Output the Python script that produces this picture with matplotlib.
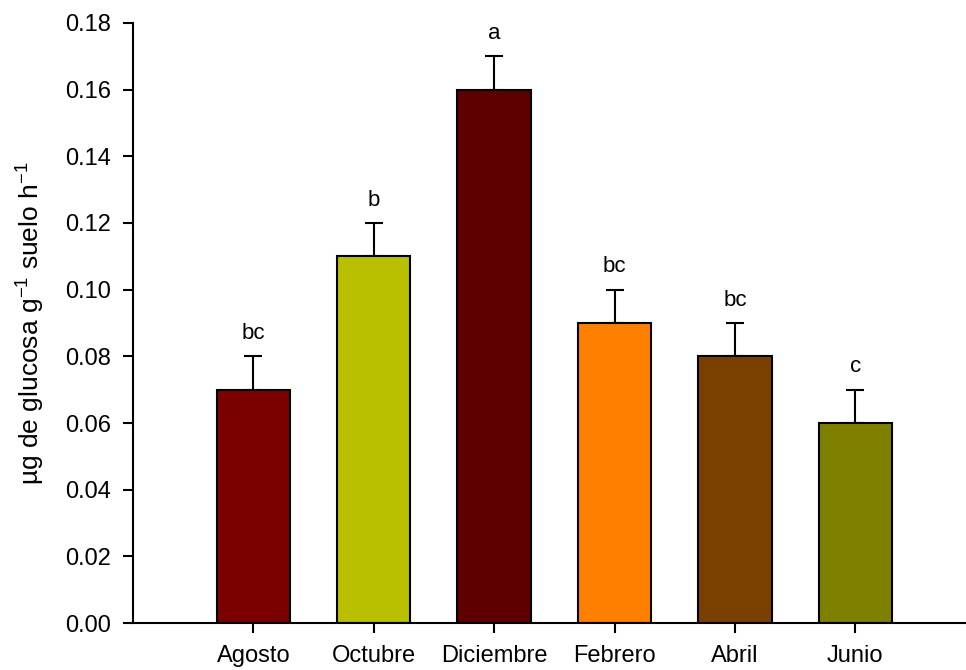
import matplotlib
matplotlib.use("Agg")
import matplotlib.pyplot as plt

meses = ["Agosto", "Octubre", "Diciembre", "Febrero", "Abril", "Junio"]
valores = [0.07, 0.11, 0.16, 0.09, 0.08, 0.06]
errores = [0.01, 0.01, 0.01, 0.01, 0.01, 0.01]
letras = ["bc", "b", "a", "bc", "bc", "c"]
colores = ["#7b0000", "#b8c000", "#5e0000", "#ff8000", "#7b4000", "#808000"]

plt.rcParams["font.family"] = ["Liberation Sans", "DejaVu Sans"]
plt.rcParams["mathtext.default"] = "regular"

fig = plt.figure(figsize=(9.66, 6.7), dpi=100)
ax = fig.add_axes([0.1377, 0.0701, 0.8623, 0.8956])

x = range(len(meses))
ax.bar(x, valores, width=0.61, color=colores, edgecolor="black", linewidth=1.5, zorder=2)
ax.errorbar(x, valores, yerr=[[0] * len(errores), errores], fmt="none",
            ecolor="black", elinewidth=1.5, capsize=6.5, capthick=1.5, zorder=1)

# letras de significancia sobre cada barra
for i, (v, e, l) in enumerate(zip(valores, errores, letras)):
    ax.text(i, v + e + 0.0037, l, ha="center", va="bottom", fontsize=16)

ax.set_xlim(-1.0, 5.92)
ax.set_ylim(0, 0.18)
ax.set_yticks([i * 0.02 for i in range(10)])
ax.set_yticklabels(["%.2f" % (i * 0.02) for i in range(10)])
ax.set_xticks(list(x))
ax.set_xticklabels(meses)

for s in ["top", "right"]:
    ax.spines[s].set_visible(False)
for s in ["left", "bottom"]:
    ax.spines[s].set_linewidth(1.5)

ax.tick_params(axis="both", direction="out", length=7, width=1.5, labelsize=17)
ax.tick_params(axis="y", pad=9)
ax.tick_params(axis="x", pad=9)
ax.set_ylabel("µg de glucosa g$^{-1}$ suelo h$^{-1}$", fontsize=19, labelpad=13)

fig.savefig("out.png", dpi=100)
